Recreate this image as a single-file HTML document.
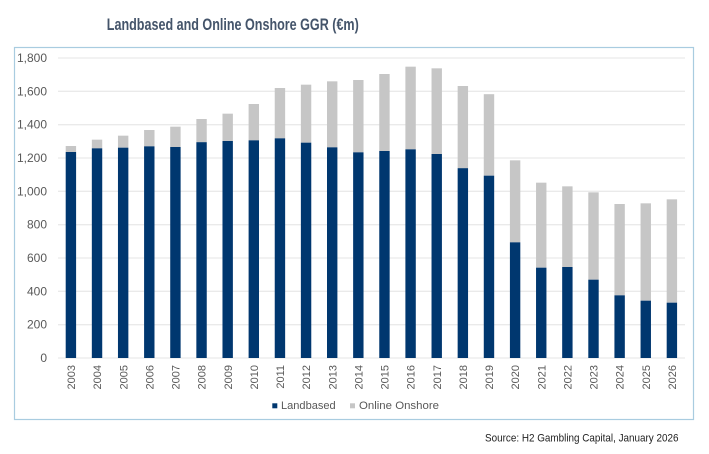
<!DOCTYPE html>
<html>
<head>
<meta charset="utf-8">
<style>
  html,body{margin:0;padding:0;background:#fff;}
  svg{display:block;}
  text{font-family:"Liberation Sans", Arial, sans-serif;}
</style>
</head>
<body>
<svg width="709" height="454" viewBox="0 0 709 454" xmlns="http://www.w3.org/2000/svg">
  <rect x="0" y="0" width="709" height="454" fill="#fff"/>
  <!-- Title -->
  <text x="232.8" y="30" text-anchor="middle" font-size="17" font-weight="bold" fill="#44546A" textLength="252" lengthAdjust="spacingAndGlyphs">Landbased and Online Onshore GGR (€m)</text>

  <!-- Chart border -->
  <rect x="14.5" y="47.5" width="679" height="372" fill="none" stroke="#A9CCE0" stroke-width="1.2"/>

  <!-- Gridlines -->
  <g stroke="#EAEAEA" stroke-width="1.3">
    <line x1="58" y1="58" x2="685" y2="58"/>
    <line x1="58" y1="91.33" x2="685" y2="91.33"/>
    <line x1="58" y1="124.67" x2="685" y2="124.67"/>
    <line x1="58" y1="158" x2="685" y2="158"/>
    <line x1="58" y1="191.33" x2="685" y2="191.33"/>
    <line x1="58" y1="224.67" x2="685" y2="224.67"/>
    <line x1="58" y1="258" x2="685" y2="258"/>
    <line x1="58" y1="291.33" x2="685" y2="291.33"/>
    <line x1="58" y1="324.67" x2="685" y2="324.67"/>
    <line x1="58" y1="358" x2="685" y2="358"/>
  </g>

  <!-- Y labels -->
  <g font-size="12" fill="#595959" text-anchor="end">
    <text x="47" y="62">1,800</text>
    <text x="47" y="95.3">1,600</text>
    <text x="47" y="128.7">1,400</text>
    <text x="47" y="162">1,200</text>
    <text x="47" y="195.3">1,000</text>
    <text x="47" y="228.7">800</text>
    <text x="47" y="262">600</text>
    <text x="47" y="295.3">400</text>
    <text x="47" y="328.7">200</text>
    <text x="47" y="362">0</text>
  </g>

  <!-- Online (grey) bars -->
  <g fill="#C6C6C6">
    <rect x="65.7" y="146" width="10.4" height="6"/>
    <rect x="91.83" y="139.67" width="10.4" height="8.66"/>
    <rect x="117.96" y="135.67" width="10.4" height="12"/>
    <rect x="144.09" y="130" width="10.4" height="16.33"/>
    <rect x="170.22" y="126.67" width="10.4" height="20.33"/>
    <rect x="196.35" y="119" width="10.4" height="23.17"/>
    <rect x="222.48" y="113.67" width="10.4" height="27.33"/>
    <rect x="248.61" y="104" width="10.4" height="36.33"/>
    <rect x="274.74" y="88" width="10.4" height="50.33"/>
    <rect x="300.87" y="84.67" width="10.4" height="58"/>
    <rect x="327.0" y="81.33" width="10.4" height="66"/>
    <rect x="353.13" y="80" width="10.4" height="72.33"/>
    <rect x="379.26" y="74" width="10.4" height="77"/>
    <rect x="405.39" y="66.67" width="10.4" height="82.66"/>
    <rect x="431.52" y="68.33" width="10.4" height="85.67"/>
    <rect x="457.65" y="86" width="10.4" height="82.17"/>
    <rect x="483.78" y="94.17" width="10.4" height="81.5"/>
    <rect x="509.91" y="160.33" width="10.4" height="82"/>
    <rect x="536.04" y="182.67" width="10.4" height="85"/>
    <rect x="562.17" y="186.33" width="10.4" height="80.67"/>
    <rect x="588.3" y="192.33" width="10.4" height="87.34"/>
    <rect x="614.43" y="204" width="10.4" height="91.33"/>
    <rect x="640.56" y="203.33" width="10.4" height="97.34"/>
    <rect x="666.69" y="199.33" width="10.4" height="103.34"/>
  </g>

  <!-- Landbased (navy) bars -->
  <g fill="#00376F">
    <rect x="65.7" y="152" width="10.4" height="206"/>
    <rect x="91.83" y="148.33" width="10.4" height="209.67"/>
    <rect x="117.96" y="147.67" width="10.4" height="210.33"/>
    <rect x="144.09" y="146.33" width="10.4" height="211.67"/>
    <rect x="170.22" y="147" width="10.4" height="211"/>
    <rect x="196.35" y="142.17" width="10.4" height="215.83"/>
    <rect x="222.48" y="141" width="10.4" height="217"/>
    <rect x="248.61" y="140.33" width="10.4" height="217.67"/>
    <rect x="274.74" y="138.33" width="10.4" height="219.67"/>
    <rect x="300.87" y="142.67" width="10.4" height="215.33"/>
    <rect x="327.0" y="147.33" width="10.4" height="210.67"/>
    <rect x="353.13" y="152.33" width="10.4" height="205.67"/>
    <rect x="379.26" y="151" width="10.4" height="207"/>
    <rect x="405.39" y="149.33" width="10.4" height="208.67"/>
    <rect x="431.52" y="154" width="10.4" height="204"/>
    <rect x="457.65" y="168.17" width="10.4" height="189.83"/>
    <rect x="483.78" y="175.67" width="10.4" height="182.33"/>
    <rect x="509.91" y="242.33" width="10.4" height="115.67"/>
    <rect x="536.04" y="267.67" width="10.4" height="90.33"/>
    <rect x="562.17" y="267" width="10.4" height="91"/>
    <rect x="588.3" y="279.67" width="10.4" height="78.33"/>
    <rect x="614.43" y="295.33" width="10.4" height="62.67"/>
    <rect x="640.56" y="300.67" width="10.4" height="57.33"/>
    <rect x="666.69" y="302.67" width="10.4" height="55.33"/>
  </g>

  <!-- X labels -->
  <g font-size="11" fill="#595959" text-anchor="end">
    <text transform="translate(75,365) rotate(-90)">2003</text>
    <text transform="translate(101.13,365) rotate(-90)">2004</text>
    <text transform="translate(127.26,365) rotate(-90)">2005</text>
    <text transform="translate(153.39,365) rotate(-90)">2006</text>
    <text transform="translate(179.52,365) rotate(-90)">2007</text>
    <text transform="translate(205.65,365) rotate(-90)">2008</text>
    <text transform="translate(231.78,365) rotate(-90)">2009</text>
    <text transform="translate(257.91,365) rotate(-90)">2010</text>
    <text transform="translate(284.04,365) rotate(-90)">2011</text>
    <text transform="translate(310.17,365) rotate(-90)">2012</text>
    <text transform="translate(336.3,365) rotate(-90)">2013</text>
    <text transform="translate(362.43,365) rotate(-90)">2014</text>
    <text transform="translate(388.56,365) rotate(-90)">2015</text>
    <text transform="translate(414.69,365) rotate(-90)">2016</text>
    <text transform="translate(440.82,365) rotate(-90)">2017</text>
    <text transform="translate(466.95,365) rotate(-90)">2018</text>
    <text transform="translate(493.08,365) rotate(-90)">2019</text>
    <text transform="translate(519.21,365) rotate(-90)">2020</text>
    <text transform="translate(545.34,365) rotate(-90)">2021</text>
    <text transform="translate(571.47,365) rotate(-90)">2022</text>
    <text transform="translate(597.6,365) rotate(-90)">2023</text>
    <text transform="translate(623.73,365) rotate(-90)">2024</text>
    <text transform="translate(649.86,365) rotate(-90)">2025</text>
    <text transform="translate(675.99,365) rotate(-90)">2026</text>
  </g>

  <!-- Legend -->
  <rect x="272.3" y="403.3" width="5" height="5" fill="#00376F"/>
  <text x="281" y="409" font-size="11" fill="#595959" textLength="54.7" lengthAdjust="spacingAndGlyphs">Landbased</text>
  <rect x="350" y="403.3" width="5" height="5" fill="#C6C6C6"/>
  <text x="359" y="409" font-size="11" fill="#595959" textLength="80" lengthAdjust="spacingAndGlyphs">Online Onshore</text>

  <!-- Source -->
  <text x="485" y="441.7" font-size="11" fill="#222" textLength="193.5" lengthAdjust="spacingAndGlyphs">Source: H2 Gambling Capital, January 2026</text>
</svg>
</body>
</html>
